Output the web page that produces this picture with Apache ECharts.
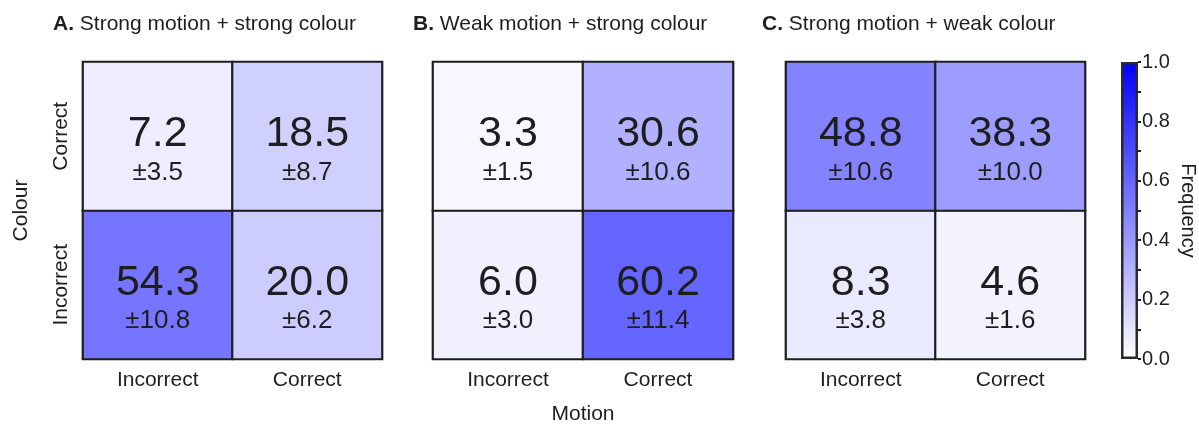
<!DOCTYPE html>
<html>
<head>
<meta charset="utf-8">
<script src="https://cdn.jsdelivr.net/npm/echarts@6/dist/echarts.min.js"></script>
<style>
  html, body { margin: 0; padding: 0; background: #fff; }
  #chart { width: 1199px; height: 424px; }
</style>
</head>
<body>
<div id="chart"></div>
<script>
// categories
var motionCats = ["Incorrect", "Correct"];
var colourCats = ["Incorrect", "Correct"]; // bottom -> top
var panelLetters = ["A.", "B.", "C."];
var panelTitles = [
  "Strong motion + strong colour",
  "Weak motion + strong colour",
  "Strong motion + weak colour"
];
// rows: colour Incorrect, Correct ; cols: motion Incorrect, Correct (percent)
var meanA = [[54.3, 20.0], [7.2, 18.5]];
var sdA = [[10.8, 6.2], [3.5, 8.7]];
var meanB = [[6.0, 60.2], [3.3, 30.6]];
var sdB = [[3.0, 11.4], [1.5, 10.6]];
var meanC = [[8.3, 4.6], [48.8, 38.3]];
var sdC = [[3.8, 1.6], [10.6, 10.0]];
// colour bar
var freqMin = 0;
var freqMax = 1;
var freqBar = [1];

var font = "Liberation Sans";
var ink = "#1e1e1e";

function cells(mean, sd) {
  var out = [];
  for (var r = 0; r < mean.length; r++) {
    for (var c = 0; c < mean[r].length; c++) {
      out.push([c, r, mean[r][c], sd[r][c]]);
    }
  }
  return out;
}

var panels = [
  { left: 83, width: 299, mean: meanA, sd: sdA, titleLeft: 53 },
  { left: 433, width: 300, mean: meanB, sd: sdB, titleLeft: 413 },
  { left: 786, width: 299, mean: meanC, sd: sdC, titleLeft: 762 }
];

var grid = [], xAxis = [], yAxis = [], series = [], title = [];

panels.forEach(function (p, i) {
  grid.push({ left: p.left, top: 62, width: p.width, height: 297, outerBoundsMode: "none", containLabel: false });
  title.push({
    left: p.titleLeft, top: 14, padding: 0,
    text: "{b|" + panelLetters[i] + "} " + panelTitles[i],
    textStyle: {
      fontFamily: font, fontSize: 21, fontWeight: "normal", color: ink,
      rich: { b: { fontFamily: font, fontSize: 21, fontWeight: "bold", color: ink } }
    }
  });
  xAxis.push({
    type: "category", gridIndex: i, data: motionCats,
    axisLine: { show: false }, axisTick: { show: false }, splitLine: { show: false },
    axisLabel: { fontFamily: font, fontSize: 21, color: ink, margin: 11 },
    name: i === 1 ? "Motion" : "", nameLocation: "middle", nameGap: 45,
    nameTextStyle: { fontFamily: font, fontSize: 21, color: ink }
  });
  yAxis.push({
    type: "category", gridIndex: i, data: colourCats,
    axisLine: { show: false }, axisTick: { show: false }, splitLine: { show: false },
    axisLabel: { show: i === 0, rotate: 90, fontFamily: font, fontSize: 21, color: ink, margin: 11 },
    name: i === 0 ? "Colour" : "", nameLocation: "middle", nameGap: 51,
    nameTextStyle: { fontFamily: font, fontSize: 21, color: ink }
  });
  series.push({
    type: "heatmap", xAxisIndex: i, yAxisIndex: i,
    data: cells(p.mean, p.sd),
    itemStyle: { borderColor: ink, borderWidth: 2.2 },
    emphasis: { disabled: true },
    label: {
      show: true, offset: [0, 14],
      formatter: function (d) {
        return "{m|" + d.data[2].toFixed(1) + "}\n{s|\u00b1" + d.data[3].toFixed(1) + "}";
      },
      rich: {
        m: { fontFamily: font, fontSize: 43, lineHeight: 45, color: ink, align: "center" },
        s: { fontFamily: font, fontSize: 26, lineHeight: 32, color: ink, align: "center" }
      }
    }
  });
});

// colour bar
grid.push({ left: 1121, top: 62, width: 17, height: 297, outerBoundsMode: "none", containLabel: false });
xAxis.push({ type: "category", gridIndex: 3, data: ["f"], show: false });
yAxis.push({
  type: "value", gridIndex: 3, position: "right", min: freqMin, max: freqMax, interval: 0.2,
  axisLine: { show: false }, splitLine: { show: false },
  axisTick: { show: true, inside: false, length: 3, lineStyle: { color: ink, width: 2 } },
  minorTick: { show: true, splitNumber: 2, length: 3, lineStyle: { color: ink, width: 2 } },
  axisLabel: {
    fontFamily: font, fontSize: 20, color: ink, margin: 4,
    formatter: function (v) { return v.toFixed(1); }
  },
  name: "Frequency", nameLocation: "middle", nameRotate: -90, nameGap: 40,
  nameTextStyle: { fontFamily: font, fontSize: 20, color: ink }
});
series.push({
  type: "bar", xAxisIndex: 3, yAxisIndex: 3, data: freqBar, barWidth: "100%",
  silent: true, z: 1,
  itemStyle: {
    color: new echarts.graphic.LinearGradient(0, 0, 0, 1, [
      { offset: 0, color: "#0000ff" },
      { offset: 1, color: "#ffffff" }
    ]),
    borderColor: "#2a2a2a", borderWidth: 2.5
  }
});

var chart = echarts.init(document.getElementById("chart"));
chart.setOption({
  animation: false,
  backgroundColor: "#fff",
  title: title,
  grid: grid,
  xAxis: xAxis,
  yAxis: yAxis,
  visualMap: {
    show: false, min: 0, max: 100, dimension: 2, seriesIndex: [0, 1, 2],
    inRange: { color: ["#ffffff", "#0000ff"] }
  },
  series: series
});
</script>
</body>
</html>
